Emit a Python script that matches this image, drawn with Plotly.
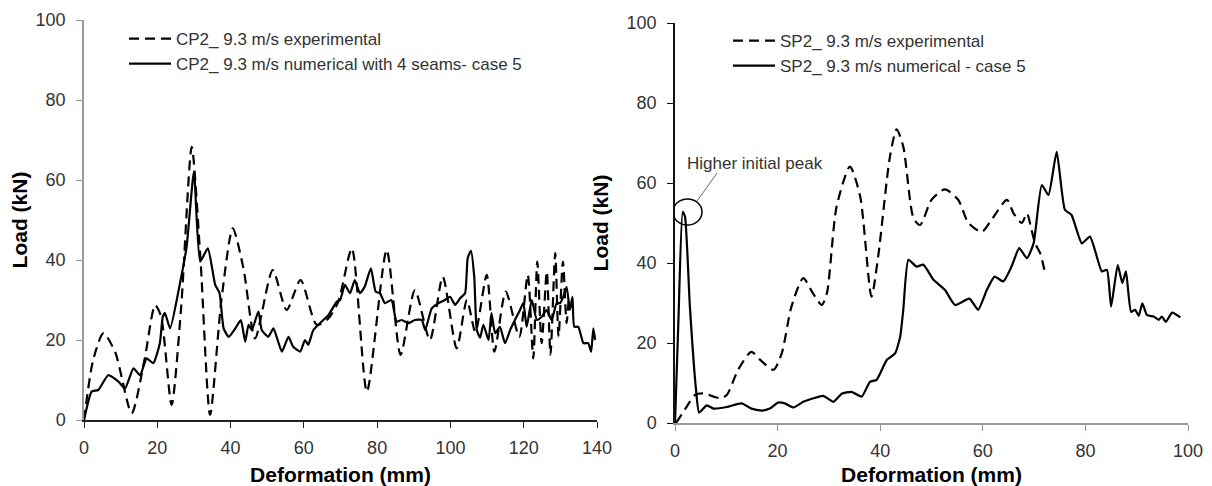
import plotly.graph_objects as go

# ---------------- data ----------------
cp2_exp_x = [0, 2.5, 5.3, 8.5, 13.0, 16.5, 19.4, 21.0, 23.9, 26.5, 29.4, 31.8, 34.4, 37.5, 40.6, 43.5,
             46.7, 51.5, 55.3, 59.1, 63.5, 66.7, 69.4, 73.1, 77.2, 82.6, 86.4, 90.3, 94.4, 97.9, 101.7,
             104.5, 106.8, 109.9, 112.0, 115.1, 118.8, 121.1, 122.6, 123.7, 124.9, 126.3, 127.3, 128.6,
             129.5, 130.7, 131.7, 132.3]
cp2_exp_y = [0, 15, 21.7, 17, 1.7, 15, 28.7, 26, 3.8, 28, 68.3, 40, 1.3, 30, 47.9, 38,
             20.4, 37.5, 27.5, 35, 23.8, 25.4, 29.6, 42.9, 7.1, 42.5, 16.3, 32.5, 20, 35.8, 17.9,
             30, 22, 36.3, 17.1, 32.1, 20.8, 36.3, 15.4, 39.6, 19.2, 37.1, 16.3, 41.7,
             20.8, 39.6, 24.2, 30.8]

cp2_num_x = [0, 2.1, 3.9, 6.6, 9.4, 11.2, 13.5, 15.3, 17.1, 18.9, 20.7, 21.5, 22.1, 23.5, 26.2, 28.0,
             30.0, 31.7, 33.8, 35.8, 37.0, 38.1, 39.5, 41.3, 42.8, 44.0, 44.9, 45.8, 47.6, 48.5, 50.3,
             51.7, 54.0, 55.8, 57.1, 59.0, 60.3, 61.2, 62.6, 65.3, 66.7, 69.0, 69.9, 71.2, 72.6, 73.9,
             75.3, 76.6, 78.3, 79.6, 80.8, 82.1, 83.9, 85.3, 86.7, 88.5, 90.3, 92.2, 93.1, 94.9, 96.7,
             98.5, 99.9, 101.3, 102.6, 104.0, 104.7, 105.6, 106.5, 107.2, 108.1, 109.0, 110.4, 111.2,
             112.2, 113.5, 114.9, 116.3, 117.6, 119.0, 119.9, 120.8, 122.2, 123.6, 124.9, 126.3, 127.6,
             129.0, 129.9, 130.8, 131.7, 132.6, 133.3, 133.8, 134.9, 136.3, 137.6, 138.4, 139.0, 139.5]
cp2_num_y = [0, 7.1, 7.5, 11.2, 9.6, 7.9, 12.9, 11.2, 15.4, 14.2, 19.2, 25.8, 26.7, 22.9, 34.2, 43.3,
             62.1, 39.6, 42.9, 33.8, 31.7, 22.9, 20.8, 22.9, 25, 19.6, 23.8, 22.5, 27.1, 22.5, 20.8,
             22.9, 17.1, 20.8, 18.3, 17.1, 20, 18.8, 22.5, 25, 26.2, 29.6, 30, 33.8, 31.7, 35,
             31.7, 33.3, 37.9, 32.1, 31.7, 29.2, 30, 24.6, 25, 24.2, 25, 25, 22.5, 27.9, 29.2,
             30, 30.8, 28.8, 30.4, 31.7, 40.4, 42.3, 35.8, 22.5, 20.6, 23.8, 20, 26.7,
             21.7, 23.3, 19.2, 22.5, 25, 27.5, 29.2, 23.3, 30, 25, 25.8, 27.5, 25,
             29.2, 29.2, 30.8, 33.3, 27.5, 30.8, 23.3, 23.3, 19.2, 19.2, 17.1, 22.9, 20]

sp2_exp_x = [0.2, 1.9, 3.9, 5.5, 8.8, 10.1, 12.3, 14.9, 16.6, 19.2, 20.8, 22.7, 25.0, 26.9, 28.6, 29.6,
             31.5, 34.1, 36.1, 38.3, 39.6, 41.9, 43.2, 44.5, 46.5, 47.8, 50.0, 52.6, 55.2, 57.2, 59.8,
             61.7, 64.7, 66.0, 67.6, 68.6, 69.5, 70.2, 71.2, 72.0]
sp2_exp_y = [0, 3.3, 7, 7.4, 6.2, 7, 13.3, 17.8, 15.8, 13.3, 17.4, 29.1, 36.2, 32.4, 29.5, 32.4,
             54.1, 64.1, 56.6, 31.6, 41.6, 66.6, 73.4, 69.1, 51.2, 49.5, 55.8, 58.4, 55.8, 50, 47.8,
             50.8, 55.8, 52.4, 50, 52.4, 48.3, 44.9, 42.4, 38.3]

sp2_num_x = [0, 0.65, 1.5, 1.95, 2.9, 4.1, 4.7, 6.2, 7.5, 10.1, 13.0, 14.9, 16.9, 18.5, 20.1, 21.4,
             23.1, 25.0, 27.0, 28.9, 30.9, 32.5, 34.4, 36.4, 38.0, 39.3, 41.3, 42.9, 43.9, 44.5, 45.5,
             47.1, 48.4, 50.4, 52.6, 54.6, 57.4, 59.1, 60.8, 62.3, 64.0, 65.6, 67.1, 68.6, 69.9, 71.5,
             72.8, 74.4, 76.0, 77.3, 79.3, 80.9, 83.2, 84.2, 85.0, 86.3, 87.2, 87.9, 88.9, 89.7, 90.4,
             91.1, 92.0, 93.3, 94.3, 94.9, 95.7, 96.9, 98.5]
sp2_num_y = [0, 24.9, 52.8, 51.6, 29.1, 8.3, 2.6, 4.4, 3.6, 4, 4.9, 3.6, 3.1, 3.6, 5.1, 4.9,
             3.9, 5.3, 6.2, 6.8, 5.3, 7.3, 7.8, 6.6, 10.3, 10.8, 15.8, 17.4, 21.6, 28.3, 40.8,
             39.1, 39.6, 35.8, 33.3, 29.5, 31.1, 28.3, 33.3, 36.6, 35.4, 39.1, 43.7, 41.2, 44.9, 59.5,
             57, 67.8, 53.3, 52, 44.9, 46.6, 37.9, 38.3, 29.1, 39.5, 35, 37.9, 27.8, 28.3, 26.8,
             29.9, 27, 26.6, 25.8, 26.6, 25.3, 27.6, 26.4]

y_ticks = [0, 20, 40, 60, 80, 100]
left_x_ticks = [0, 20, 40, 60, 80, 100, 120, 140]
right_x_ticks = [0, 20, 40, 60, 80, 100]

left_names = ["CP2_ 9.3 m/s experimental", "CP2_ 9.3 m/s numerical with 4 seams- case 5"]
right_names = ["SP2_ 9.3 m/s experimental", "SP2_ 9.3 m/s numerical - case 5"]
annot_text = "Higher initial peak"

# ---------------- figure ----------------
FONT = "Liberation Sans, Arial, sans-serif"
OFF = 8                       # page body margin
W, H = 1212 - OFF, 486 - OFF
dash = "10px,6px"
lw = 2.2

def px(v):
    return (v - OFF) / W

def py(v):
    return 1 - (v - OFF) / H

fig = go.Figure()
fig.add_trace(go.Scatter(x=cp2_exp_x, y=cp2_exp_y, mode="lines", name=left_names[0],
                         line=dict(color="black", width=lw, dash=dash, shape="spline", smoothing=0.7),
                         xaxis="x", yaxis="y", legend="legend"))
fig.add_trace(go.Scatter(x=cp2_num_x, y=cp2_num_y, mode="lines", name=left_names[1],
                         line=dict(color="black", width=lw, shape="spline", smoothing=0.5),
                         xaxis="x", yaxis="y", legend="legend"))
fig.add_trace(go.Scatter(x=sp2_exp_x, y=sp2_exp_y, mode="lines", name=right_names[0],
                         line=dict(color="black", width=lw, dash=dash, shape="spline", smoothing=0.7),
                         xaxis="x2", yaxis="y2", legend="legend2"))
fig.add_trace(go.Scatter(x=sp2_num_x, y=sp2_num_y, mode="lines", name=right_names[1],
                         line=dict(color="black", width=lw, shape="spline", smoothing=0.5),
                         xaxis="x2", yaxis="y2", legend="legend2"))

tickfont = dict(family=FONT, size=18, color="#333333")
titlefont = dict(family=FONT, size=21, color="black")

def xaxis(dom, rng, ticks, anchor, linecolor):
    return dict(domain=dom, range=rng, tickvals=ticks, ticks="outside", ticklen=6, tickwidth=1.3,
                tickcolor=linecolor, showline=True, linecolor=linecolor, linewidth=1.5,
                showgrid=False, zeroline=False, tickfont=tickfont, anchor=anchor, automargin=False,
                ticklabelstandoff=5,
                title=dict(text="<b>Deformation (mm)</b>", font=titlefont, standoff=12))

def yaxis(dom, anchor, linecolor):
    return dict(domain=dom, range=[0, 100], tickvals=y_ticks, ticks="outside", ticklen=6, tickwidth=1.3,
                tickcolor=linecolor, showline=True, linecolor=linecolor, linewidth=1.5,
                showgrid=False, zeroline=False, tickfont=tickfont, anchor=anchor, automargin=False,
                ticklabelstandoff=7,
                title=dict(text="<b>Load (kN)</b>", font=titlefont, standoff=12))

fig.update_layout(
    width=W, height=H, autosize=False,
    margin=dict(l=0, r=0, t=0, b=0),
    paper_bgcolor="white", plot_bgcolor="white",
    xaxis=xaxis([px(84), px(597)], [0, 140], left_x_ticks, "y", "#222222"),
    yaxis=yaxis([py(420), py(20)], "x", "#999999"),
    xaxis2=xaxis([px(675), px(1188)], [0, 100], right_x_ticks, "y2", "#999999"),
    yaxis2=yaxis([py(423), py(23)], "x2", "#111111"),
    legend=dict(x=px(124), y=py(21), xanchor="left", yanchor="top", bgcolor="rgba(0,0,0,0)",
                font=dict(family=FONT, size=17, color="#333333"), itemwidth=42, tracegroupgap=0),
    legend2=dict(x=px(728), y=py(23), xanchor="left", yanchor="top", bgcolor="rgba(0,0,0,0)",
                 font=dict(family=FONT, size=17, color="#333333"), itemwidth=42, tracegroupgap=0),
    showlegend=True,
)

# "Higher initial peak" callout
fig.add_annotation(x=1.95, y=65, xref="x2", yref="y2", text=annot_text, showarrow=False,
                   xanchor="left", yanchor="middle",
                   font=dict(family=FONT, size=17, color="#333333"))
fig.add_shape(type="circle", xref="x2", yref="y2", x0=-0.4, x1=5.27, y0=49.5, y1=56,
              line=dict(color="black", width=1.5))
fig.add_shape(type="line", xref="x2", yref="y2", x0=4.3, y0=55.5, x1=8.2, y1=62.5,
              line=dict(color="#666666", width=1))

fig.write_html("out.html")
